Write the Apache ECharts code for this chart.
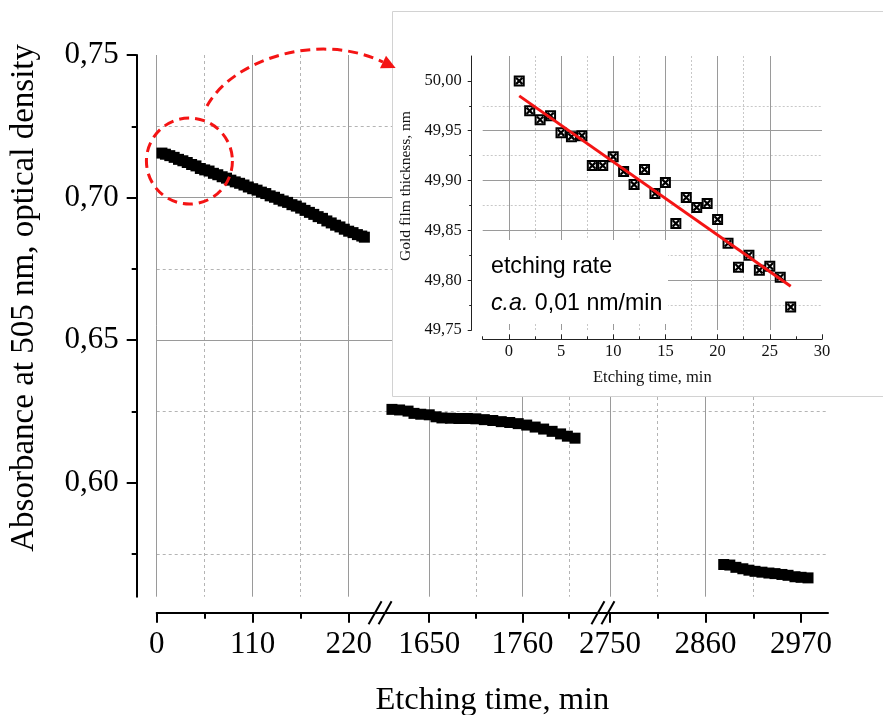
<!DOCTYPE html>
<html><head><meta charset="utf-8">
<script src="https://cdn.jsdelivr.net/npm/echarts@6/dist/echarts.min.js"></script>
<style>html,body{margin:0;padding:0;background:#fff}#c{width:883px;height:715px}</style>
</head><body><div id="c"></div>
<script>
// ================= DATA =================
// main chart: absorbance at 505 nm vs etching time (three recorded periods)
const seg1Time = [6,10,15,20,25,30,35,40,45,50,55,60,65,70,75,80,85,90,95,100,105,110,115,120,125,130,135,140,145,150,155,160,165,170,175,180,185,190,195,200,205,210,215,220,225,230,235,238];
const seg1Abs  = [0.7156,0.7152,0.7147,0.7141,0.7134,0.7129,0.7123,0.7116,0.7111,0.7102,0.7097,0.7093,0.7085,0.7080,0.7073,0.7068,0.7061,0.7055,0.7050,0.7044,0.7037,0.7031,0.7026,0.7019,0.7014,0.7006,0.7001,0.6994,0.6988,0.6983,0.6975,0.6970,0.6963,0.6955,0.6948,0.6941,0.6933,0.6927,0.6918,0.6911,0.6903,0.6897,0.6889,0.6882,0.6877,0.6870,0.6865,0.6861];
const seg2Time = [1606,1615,1625,1632,1640,1650,1658,1665,1675,1685,1695,1705,1715,1725,1735,1745,1755,1765,1775,1785,1795,1805,1813,1822];
const seg2Abs  = [0.6257,0.6255,0.6251,0.6243,0.6240,0.6238,0.6231,0.6227,0.6226,0.6225,0.6225,0.6224,0.6221,0.6218,0.6214,0.6211,0.6207,0.6202,0.6195,0.6188,0.6180,0.6171,0.6163,0.6156];
const seg3Time = [2881,2888,2895,2903,2910,2917,2925,2933,2940,2948,2955,2963,2970,2978];
const seg3Abs  = [0.5713,0.5711,0.5703,0.5698,0.5693,0.5689,0.5686,0.5683,0.5681,0.5678,0.5675,0.5670,0.5668,0.5666];

const xMajorTicks = [0,110,220,1650,1760,2750,2860,2970];
const xMinorTicks = [55,165,1705,1815,2805,2915];
const yMajorTicks = [0.60,0.65,0.70,0.75];
const yMinorTicks = [0.575,0.625,0.675,0.725];

// inset: gold film thickness vs etching time
const insetTime = [1,2,3,4,5,6,7,8,9,10,11,12,13,14,15,16,17,18,19,20,21,22,23,24,25,26,27];
const insetThickness = [50.000,49.970,49.961,49.965,49.948,49.944,49.945,49.915,49.915,49.924,49.909,49.896,49.911,49.887,49.898,49.857,49.883,49.873,49.877,49.861,49.837,49.813,49.825,49.810,49.814,49.803,49.773];
const fitTime = [1,27];
const fitThickness = [49.985,49.794];

const insetXMajor = [0,5,10,15,20,25,30];
const insetXMinor = [-2.5,2.5,7.5,12.5,17.5,22.5,27.5];
const insetYMajor = [49.75,49.80,49.85,49.90,49.95,50.00];
const insetYMinor = [49.775,49.825,49.875,49.925,49.975];

// ================= BROKEN AXIS LAYOUT =================
const U_MAX = 769.3;
const SEGMENTS = [
  {t0: 0,    t1: 256,  u0: 0,     u1: 256},
  {t0: 1592, t1: 1855, u0: 256,   u1: 511.4},
  {t0: 2742, t1: 3001, u0: 511.4, u1: U_MAX}
];
function toU(t){
  for (const s of SEGMENTS){ if (t <= s.t1) return s.u0 + (t - s.t0) * (s.u1 - s.u0) / (s.t1 - s.t0); }
  const s = SEGMENTS[SEGMENTS.length-1];
  return s.u0 + (t - s.t0) * (s.u1 - s.u0) / (s.t1 - s.t0);
}
function fromU(u){
  for (const s of SEGMENTS){ if (u <= s.u1 + 1e-6) return s.t0 + (u - s.u0) * (s.t1 - s.t0) / (s.u1 - s.u0); }
  return 0;
}
const pair = (xs, ys, fx) => xs.map((x, i) => [fx ? fx(x) : x, ys[i]]);
const comma = (v, d) => v.toFixed(d).replace('.', ',');

const SERIF = "'Liberation Serif','Times New Roman',serif";
const SANS = "'Liberation Sans',Arial,sans-serif";
const RED = '#f41414';
const SOLID = {show: true, lineStyle: {color: '#9a9a9a', width: 1, type: 'solid'}};
const DASH  = {show: true, lineStyle: {color: '#b4b4b4', width: 1, type: [3, 3]}};

const chart = echarts.init(document.getElementById('c'), null, {renderer: 'canvas'});
const option = {
  animation: false,
  backgroundColor: '#fff',
  textStyle: {fontFamily: SERIF, color: '#000'},
  grid: [
    {left: 156.7, right: 55, top: 55, bottom: 118.3, containLabel: false, outerBoundsMode: 'none'},
    {left: 482.7, right: 61, top: 56, bottom: 385, containLabel: false, outerBoundsMode: 'none'}
  ],
  xAxis: [
    {gridIndex: 0, type: 'value', min: 0, max: U_MAX, position: 'bottom', offset: 16,
     axisLine: {show: true, onZero: false, lineStyle: {color: '#000', width: 2}},
     axisTick: {show: true, inside: false, length: 10, customValues: xMajorTicks.map(toU), lineStyle: {color: '#000', width: 2}},
     axisLabel: {show: true, customValues: xMajorTicks.map(toU), margin: 17, fontSize: 31, fontFamily: SERIF, color: '#000',
                 formatter: v => String(Math.round(fromU(v)))},
     splitLine: Object.assign({showMinLine: true, showMaxLine: false}, SOLID),
     name: 'Etching time, min', nameLocation: 'middle', nameGap: 71,
     nameTextStyle: {fontSize: 32.5, fontFamily: SERIF, color: '#000'}},
    {gridIndex: 0, type: 'value', min: 0, max: U_MAX, position: 'bottom', offset: 16,
     axisLine: {show: false, onZero: false},
     axisTick: {show: true, inside: false, length: 6, customValues: xMinorTicks.map(toU), lineStyle: {color: '#000', width: 2}},
     axisLabel: {show: false},
     splitLine: DASH},
    {gridIndex: 1, type: 'value', min: -2.5, max: 30, position: 'bottom', offset: 9.3, z: 5,
     axisLine: {show: true, onZero: false, lineStyle: {color: '#222', width: 1}},
     axisTick: {show: true, inside: true, length: 5, customValues: insetXMajor, lineStyle: {color: '#222', width: 1}},
     axisLabel: {show: true, customValues: insetXMajor, margin: 4, fontSize: 16.5, fontFamily: SERIF, color: '#111'},
     splitLine: Object.assign({showMinLine: true, showMaxLine: false}, SOLID),
     name: 'Etching time, min', nameLocation: 'middle', nameGap: 30,
     nameTextStyle: {fontSize: 16.5, fontFamily: SERIF, color: '#111'}},
    {gridIndex: 1, type: 'value', min: -2.5, max: 30, position: 'bottom', offset: 9.3, z: 5,
     axisLine: {show: false, onZero: false},
     axisTick: {show: true, inside: true, length: 3, customValues: insetXMinor, lineStyle: {color: '#222', width: 1}},
     axisLabel: {show: false},
     splitLine: {show: true, showMinLine: false, showMaxLine: false, lineStyle: {color: '#c8c8c8', width: 1, type: [2, 2]}}}
  ],
  yAxis: [
    {gridIndex: 0, type: 'value', min: 0.56, max: 0.75, position: 'left', offset: 20,
     axisLine: {show: true, onZero: false, lineStyle: {color: '#000', width: 2}},
     axisTick: {show: true, inside: false, length: 10, customValues: yMajorTicks, lineStyle: {color: '#000', width: 2}},
     axisLabel: {show: true, customValues: yMajorTicks, margin: 18, fontSize: 31, fontFamily: SERIF, color: '#000',
                 formatter: v => comma(v, 2)},
     splitLine: Object.assign({showMinLine: false, showMaxLine: false}, SOLID),
     name: 'Absorbance at 505 nm, optical density', nameLocation: 'middle', nameGap: 96,
     nameTextStyle: {fontSize: 33, fontFamily: SERIF, color: '#000', padding: [0, 0, 0, 56]}},
    {gridIndex: 0, type: 'value', min: 0.56, max: 0.75, position: 'left', offset: 20,
     axisLine: {show: false, onZero: false},
     axisTick: {show: true, inside: false, length: 5, customValues: yMinorTicks, lineStyle: {color: '#000', width: 2}},
     axisLabel: {show: false},
     splitLine: DASH},
    {gridIndex: 1, type: 'value', min: 49.75, max: 50.025, position: 'left', offset: 11, z: 5,
     axisLine: {show: true, onZero: false, lineStyle: {color: '#222', width: 1}},
     axisTick: {show: true, inside: false, length: 4, customValues: insetYMajor, lineStyle: {color: '#222', width: 1}},
     axisLabel: {show: true, customValues: insetYMajor, margin: 10, fontSize: 16.5, fontFamily: SERIF, color: '#111',
                 formatter: v => comma(v, 2)},
     splitLine: Object.assign({showMinLine: false, showMaxLine: false}, SOLID),
     name: 'Gold film thickness, nm', nameLocation: 'middle', nameGap: 58,
     nameTextStyle: {fontSize: 15.5, fontFamily: SERIF, color: '#111', padding: [0, 0, 0, 14]}},
    {gridIndex: 1, type: 'value', min: 49.75, max: 50.025, position: 'left', offset: 11, z: 5,
     axisLine: {show: false, onZero: false},
     axisTick: {show: true, inside: false, length: 2.5, customValues: insetYMinor, lineStyle: {color: '#222', width: 1}},
     axisLabel: {show: false},
     splitLine: {show: true, lineStyle: {color: '#c8c8c8', width: 1, type: [2, 2]}}}
  ],
  series: [
    {name: 'period 1', type: 'scatter', xAxisIndex: 0, yAxisIndex: 0, symbol: 'rect', symbolSize: 11,
     itemStyle: {color: '#000', opacity: 1}, data: pair(seg1Time, seg1Abs, toU)},
    {name: 'period 2', type: 'scatter', xAxisIndex: 0, yAxisIndex: 0, symbol: 'rect', symbolSize: 11,
     itemStyle: {color: '#000', opacity: 1}, data: pair(seg2Time, seg2Abs, toU)},
    {name: 'period 3', type: 'scatter', xAxisIndex: 0, yAxisIndex: 0, symbol: 'rect', symbolSize: 11,
     itemStyle: {color: '#000', opacity: 1}, data: pair(seg3Time, seg3Abs, toU)},
    {name: 'thickness', type: 'scatter', xAxisIndex: 2, yAxisIndex: 2, symbol: 'rect', symbolSize: 9, z: 6,
     itemStyle: {color: '#fff', borderColor: '#000', borderWidth: 2, opacity: 1}, data: pair(insetTime, insetThickness)},
    {name: 'thickness-x', type: 'scatter', xAxisIndex: 2, yAxisIndex: 2, z: 7,
     symbol: 'path://M0,2L2,0L10,8L8,10Z M8,0L10,2L2,10L0,8Z', symbolSize: 8,
     itemStyle: {color: '#000', opacity: 1}, data: pair(insetTime, insetThickness)},
    {name: 'fit', type: 'line', xAxisIndex: 2, yAxisIndex: 2, z: 8, showSymbol: false, symbol: 'none',
     lineStyle: {color: RED, width: 3}, data: pair(fitTime, fitThickness)}
  ]
};
chart.setOption(option);

// ================= ANNOTATIONS =================
const gridBottomY = chart.convertToPixel({yAxisIndex: 0}, 0.56);
const axisY = gridBottomY + 16;
const breakXs = [SEGMENTS[0].u1, SEGMENTS[1].u1].map(u => chart.convertToPixel({xAxisIndex: 0}, u));
const graphics = [];
// inset panel
graphics.push({type: 'rect', z: 3, shape: {x: 392.5, y: 11.5, width: 500, height: 385},
  style: {fill: '#fff', stroke: '#d2d2d2', lineWidth: 1}});
// text box in inset
graphics.push({type: 'rect', z: 9, shape: {x: 481, y: 240, width: 187, height: 84}, style: {fill: '#fff'}});
graphics.push({type: 'text', z: 10, x: 491, y: 266.7, style: {text: 'etching rate', fontSize: 23.2, fontFamily: SANS,
  fill: '#000', verticalAlign: 'middle', align: 'left'}});
graphics.push({type: 'text', z: 10, x: 491, y: 303.3, style: {text: '{i|c.a.} 0,01 nm/min', fontSize: 23.2, fontFamily: SANS,
  fill: '#000', verticalAlign: 'middle', align: 'left',
  rich: {i: {fontStyle: 'italic', fontSize: 23.2, fontFamily: SANS, fill: '#000'}}}});
// axis break marks
breakXs.forEach(bx => {
  [-5, 5].forEach(dx => {
    graphics.push({type: 'line', z: 12, shape: {x1: bx + dx - 6.5, y1: axisY + 11.5, x2: bx + dx + 6.5, y2: axisY - 11.5},
      style: {stroke: '#000', lineWidth: 2}});
  });
});
// dashed circle around the first points
const cc = chart.convertToPixel({xAxisIndex: 0, yAxisIndex: 0}, [toU(37.5), 0.7128]);
graphics.push({type: 'circle', z: 20, shape: {cx: cc[0], cy: cc[1], r: 43},
  style: {fill: 'none', stroke: RED, lineWidth: 3, lineDash: [10, 6]}});
// dashed arrow to the inset
const P0 = [207, 106], P1 = [232, 60], P2 = [318, 31], P3 = [383, 62];
graphics.push({type: 'bezierCurve', z: 20,
  shape: {x1: P0[0], y1: P0[1], cpx1: P1[0], cpy1: P1[1], cpx2: P2[0], cpy2: P2[1], x2: P3[0], y2: P3[1]},
  style: {fill: 'none', stroke: RED, lineWidth: 3, lineDash: [10, 6]}});
const dx = P3[0] - P2[0], dy = P3[1] - P2[1], len = Math.hypot(dx, dy);
const ux = dx / len, uy = dy / len, nx = -uy, ny = ux;
graphics.push({type: 'polygon', z: 21, shape: {points: [
  [P3[0] + ux * 14, P3[1] + uy * 14], [P3[0] + nx * 7, P3[1] + ny * 7], [P3[0] - nx * 7, P3[1] - ny * 7]]},
  style: {fill: RED}});
chart.setOption({graphic: graphics});
</script></body></html>
